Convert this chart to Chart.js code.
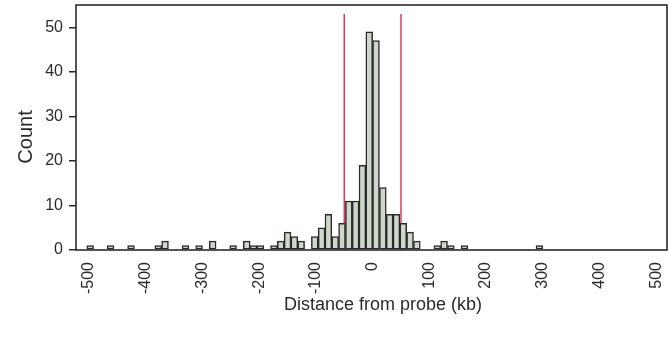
<!DOCTYPE html>
<html>
<head>
<meta charset="utf-8">
<script src="https://cdn.jsdelivr.net/npm/chart.js@4.4.0/dist/chart.umd.min.js"></script>
<style>
  html, body { margin: 0; padding: 0; background: #ffffff; }
  #wrap { width: 669px; height: 337px; }
</style>
</head>
<body>
<div id="wrap"><canvas id="c" width="669" height="337"></canvas></div>
<script>
// ---- data (bins of 12 kb; centre of each non-empty bin) ----
const binCenters = [-498, -462, -426, -378, -366, -330, -306, -282, -246, -222, -210, -198,
                    -174, -162, -150, -138, -126, -102, -90, -78, -66, -54, -42, -30, -18,
                    -6, 6, 18, 30, 42, 54, 66, 78, 114, 126, 138, 162, 294];
const counts     = [1, 1, 1, 1, 2, 1, 1, 2, 1, 2, 1, 1,
                    1, 2, 4, 3, 2, 3, 5, 8, 3, 6, 11, 11, 19,
                    49, 47, 14, 8, 8, 6, 4, 2, 1, 2, 1, 1, 1];
const xTickValues = [-500, -400, -300, -200, -100, 0, 100, 200, 300, 400, 500];
const xTickLabels = ['-500', '-400', '-300', '-200', '-100', '0', '100', '200', '300', '400', '500'];
const yTickValues = [0, 10, 20, 30, 40, 50];
const yTickLabels = ['0', '10', '20', '30', '40', '50'];
const markerPositions = [-50, 50];
const markerTop = 53;
const xTitle = 'Distance from probe (kb)';
const yTitle = 'Count';

const FONT = '"Liberation Sans", Arial, Helvetica, sans-serif';
const INK = '#2b2b2b';

const boxAndTitles = {
  id: 'boxAndTitles',
  afterDraw(chart) {
    const { ctx, chartArea: a } = chart;
    ctx.save();
    ctx.strokeStyle = INK;
    ctx.lineWidth = 1.6;
    ctx.strokeRect(a.left, a.top, a.right - a.left, a.bottom - a.top);
    ctx.fillStyle = INK;
    ctx.textAlign = 'center';
    ctx.textBaseline = 'middle';
    ctx.font = '18px ' + FONT;
    ctx.fillText(xTitle, 383, 305);
    ctx.font = '20px ' + FONT;
    ctx.translate(26, 137);
    ctx.rotate(-Math.PI / 2);
    ctx.fillText(yTitle, 0, 0);
    ctx.restore();
  }
};

const datasets = [{
  type: 'bar',
  label: 'Count',
  data: binCenters.map((x, i) => ({ x: x, y: counts[i] })),
  backgroundColor: '#cdd7ca',
  borderColor: INK,
  borderWidth: 1.5,
  borderSkipped: false,
  barPercentage: 1,
  categoryPercentage: 1,
  order: 1
}].concat(markerPositions.map(p => ({
  type: 'line',
  label: 'marker',
  data: [{ x: p, y: 0 }, { x: p, y: markerTop }],
  borderColor: '#e2385c',
  borderWidth: 1.5,
  pointRadius: 0,
  fill: false,
  order: 2
})));

new Chart(document.getElementById('c'), {
  type: 'bar',
  data: { datasets: datasets },
  options: {
    responsive: false,
    animation: false,
    devicePixelRatio: 1,
    layout: { padding: { top: 5, right: 2, left: 0, bottom: 0 } },
    plugins: { legend: { display: false }, tooltip: { enabled: false } },
    scales: {
      x: {
        type: 'linear',
        min: -523,
        max: 519,
        bounds: 'data',
        offset: false,
        afterBuildTicks: s => { s.ticks = xTickValues.map(v => ({ value: v })); },
        afterFit: s => { s.height = 87; s.paddingLeft = 0; s.paddingRight = 0; },
        grid: { display: false, drawTicks: false, offset: false },
        border: { display: false },
        ticks: {
          autoSkip: false,
          minRotation: 90,
          maxRotation: 90,
          padding: 12,
          color: INK,
          font: { family: FONT, size: 16 },
          callback: v => xTickLabels[xTickValues.indexOf(v)]
        }
      },
      y: {
        type: 'linear',
        min: 0,
        max: 55,
        bounds: 'data',
        afterBuildTicks: s => { s.ticks = yTickValues.map(v => ({ value: v })); },
        afterFit: s => { s.width = 76; s.paddingTop = 0; s.paddingBottom = 0; },
        grid: { display: true, drawOnChartArea: false, drawTicks: true, tickLength: 7, color: INK, lineWidth: 1.5 },
        border: { display: false },
        ticks: {
          padding: 6,
          color: INK,
          font: { family: FONT, size: 16 },
          callback: v => yTickLabels[yTickValues.indexOf(v)]
        }
      }
    }
  },
  plugins: [boxAndTitles]
});
</script>
</body>
</html>
